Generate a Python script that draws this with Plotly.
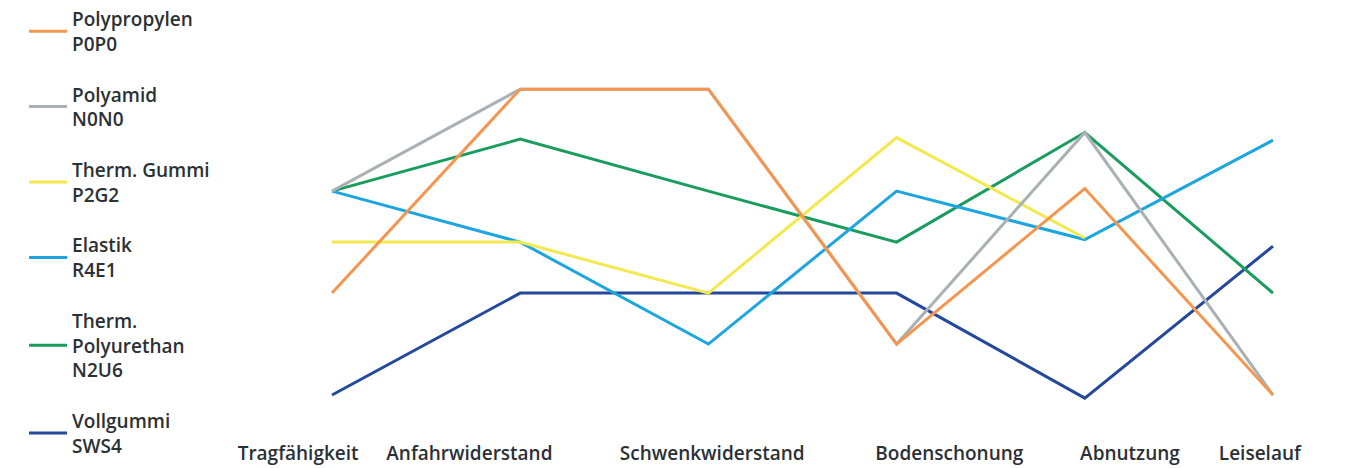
import plotly.graph_objects as go

# ---- data ----
categories = ["Tragfähigkeit", "Anfahrwiderstand", "Schwenkwiderstand",
              "Bodenschonung", "Abnutzung", "Leiselauf"]

series_names = ["Polypropylen<br>P0P0", "Polyamid<br>N0N0", "Therm. Gummi<br>P2G2",
                "Elastik<br>R4E1", "Therm.<br>Polyurethan<br>N2U6", "Vollgummi<br>SWS4"]

polypropylen = [3, 7, 7, 2, 5.05, 1]
polyamid = [5, 7, 7, 2, 6.15, 1]
therm_gummi = [4, 4, 3, 6.05, 4.08, None]
elastik = [5, 4, 2, 5, 4.05, 6]
polyurethan = [5, 6.02, 5, 4, 6.15, 3]
vollgummi = [1, 3, 3, 3, 0.94, 3.92]

colors = ["#F4964F", "#A9B1B4", "#F3E94E", "#1DA5DF", "#1A9C5E", "#23489C"]
values = [polypropylen, polyamid, therm_gummi, elastik, polyurethan, vollgummi]

# label offsets (visual placement of category labels relative to points)
label_offsets = [-0.18, -0.27, 0.02, 0.28, 0.24, -0.07]

x_idx = list(range(len(categories)))

fig = go.Figure()
# draw in reverse so Polypropylen is on top; legend order by legendrank
for rank in reversed(range(len(values))):
    fig.add_trace(go.Scatter(
        x=x_idx, y=values[rank], mode="lines", name=series_names[rank],
        line=dict(color=colors[rank], width=3),
        legendrank=rank + 1, legendgroup="g%d" % rank, connectgaps=False,
        hoverinfo="skip"))

W, H = 1358, 468
x_lo, x_hi = -0.3, 5.05
px_per_unit = (1273 - 332) / 5
px_left = 332 + x_lo * px_per_unit
px_right = 332 + x_hi * px_per_unit
py_top, py_bottom = 78.8, 440

font = dict(family="Open Sans", size=19, color="#2B3035", weight=600)

fig.update_layout(
    width=W, height=H,
    autosize=False,
    paper_bgcolor="white", plot_bgcolor="white",
    margin=dict(l=0, r=0, t=py_top, b=H - py_bottom, pad=0, autoexpand=False),
    showlegend=True,
    legend=dict(
        xref="container", yref="container",
        x=0.0177, y=1.0, xanchor="left", yanchor="top",
        font=font, tracegroupgap=23, valign="middle",
        bgcolor="rgba(0,0,0,0)", itemwidth=38, maxheight=468,
    ),
    xaxis=dict(
        domain=[px_left / W, px_right / W],
        range=[x_lo, x_hi],
        tickmode="array",
        tickvals=[i + o for i, o in zip(x_idx, label_offsets)],
        ticktext=categories,
        showgrid=False, zeroline=False, showline=False, ticks="",
        tickfont=font, fixedrange=True,
    ),
    yaxis=dict(
        range=[1 - (py_bottom - 395) / 51, 1 + (395 - py_top) / 51],
        showgrid=False, zeroline=False, showline=False,
        showticklabels=False, ticks="", fixedrange=True,
    ),
)

fig.write_html("out.html",
               config={"displayModeBar": False},
               post_script="document.body.style.margin='0';document.body.style.overflow='hidden';")
